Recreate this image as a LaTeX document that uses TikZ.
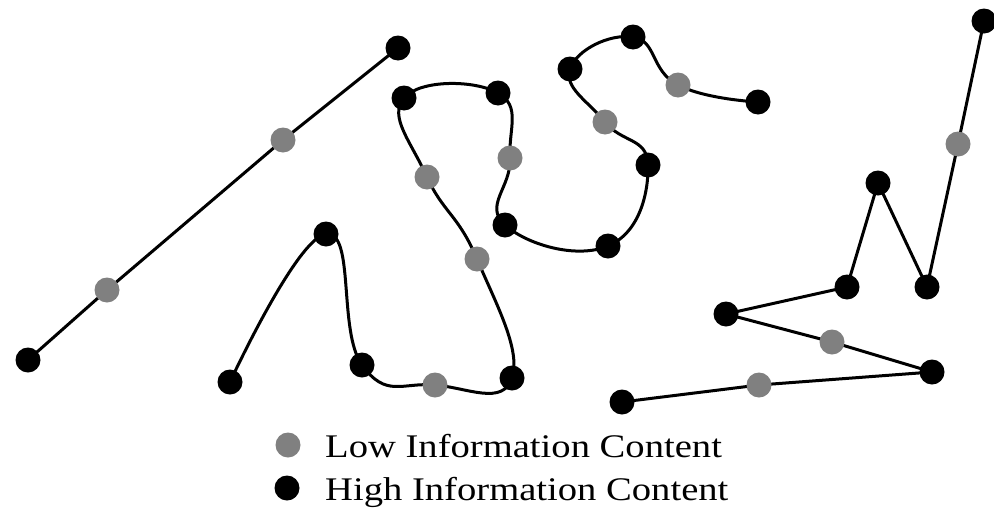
\documentclass[tikz,border=0pt]{standalone}
\usepackage{fontspec}
\newfontfamily\legendfont{Liberation Serif}[FakeStretch=1.17]
\begin{document}
\begin{tikzpicture}[x=1pt,y=-1pt,
  link/.style={draw=black,line width=3pt,line join=round,line cap=round},
  hidot/.style={circle,fill=black,inner sep=0pt,minimum size=25pt},
  lodot/.style={circle,fill=gray,inner sep=0pt,minimum size=25pt},
  legendtext/.style={anchor=base west,inner sep=0pt,font=\legendfont\fontsize{33}{40}\selectfont}]
\useasboundingbox (0,0) rectangle (994,509);

% straight chain
\coordinate (a1) at (28,360);
\coordinate (a2) at (107,290);
\coordinate (a3) at (283,140);
\coordinate (a4) at (398,48);

% smooth chain
\coordinate (c1) at (230,382);
\coordinate (c2) at (326,234);
\coordinate (c3) at (362,365);
\coordinate (c4) at (435,385);
\coordinate (c5) at (512,378);
\coordinate (c6) at (477,259);
\coordinate (c7) at (427,177);
\coordinate (c8) at (404,98);
\coordinate (c9) at (498,93);
\coordinate (c10) at (510,158);
\coordinate (c11) at (505,225);
\coordinate (c12) at (608,246);
\coordinate (c13) at (648,165);
\coordinate (c14) at (605,122);
\coordinate (c15) at (570,69);
\coordinate (c16) at (633,37);
\coordinate (c17) at (678,85);
\coordinate (c18) at (758,102);

% zig-zag chain
\coordinate (z1) at (622,402);
\coordinate (z2) at (759,385);
\coordinate (z3) at (932,372);
\coordinate (z4) at (832,342);
\coordinate (z5) at (726,314);
\coordinate (z6) at (847,287);
\coordinate (z7) at (878,183);
\coordinate (z8) at (927,287);
\coordinate (z9) at (958,144);
\coordinate (z10) at (984,21);

% connectors
\draw[link] (a1) -- (a2) -- (a3) -- (a4);
\draw[link] plot[smooth,tension=0.8] coordinates {(c1) (c2) (c3) (c4) (c5) (c6) (c7) (c8) (c9) (c10) (c11) (c12) (c13) (c14) (c15) (c16) (c17) (c18)};
\draw[link] (z1) -- (z2) -- (z3) -- (z4) -- (z5) -- (z6) -- (z7) -- (z8) -- (z9) -- (z10);

% points
\foreach \p in {a1,a4,c1,c2,c3,c5,c8,c9,c11,c12,c13,c15,c16,c18,z1,z3,z5,z6,z7,z8,z10}
  \node[hidot] (d\p) at (\p) {};
\foreach \p in {a2,a3,c4,c6,c7,c10,c14,c17,z2,z4,z9}
  \node[lodot] (d\p) at (\p) {};

% legend
\node[lodot] (keylow) at (288,445) {};
\node[hidot] (keyhigh) at (287,488) {};
\node[legendtext] (keylowtext) at (325,457) {Low Information Content};
\node[legendtext] (keyhightext) at (325,500) {High Information Content};
\end{tikzpicture}
\end{document}
